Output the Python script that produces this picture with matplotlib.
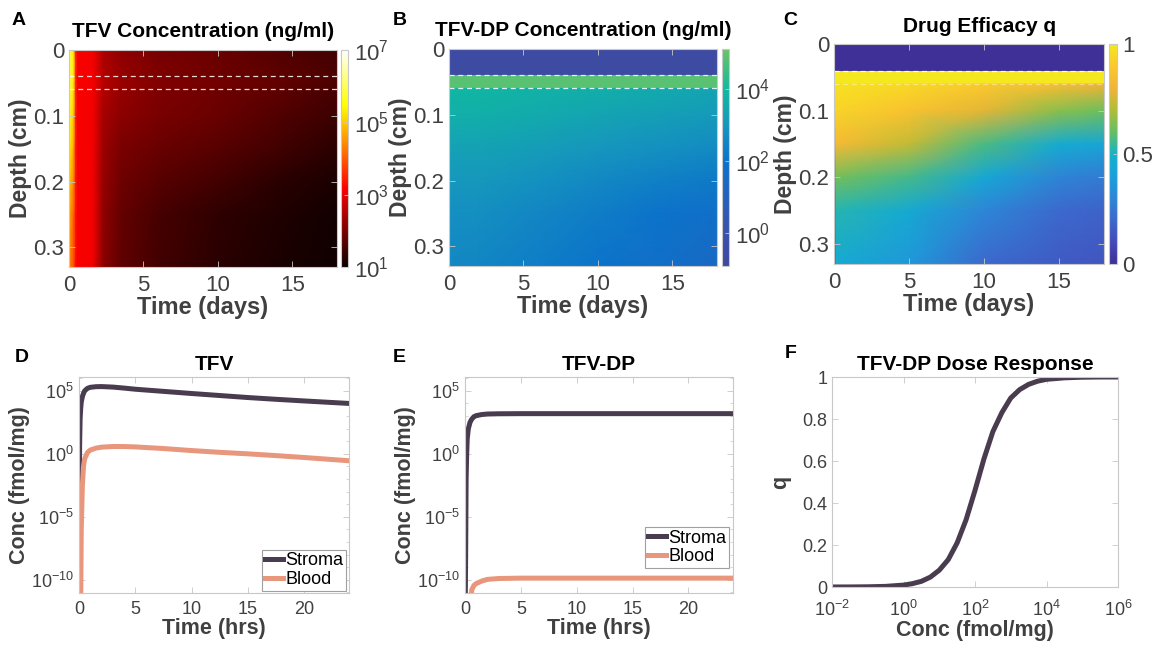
import numpy as np
import matplotlib
matplotlib.use("Agg")
import matplotlib.pyplot as plt
from matplotlib.colors import LinearSegmentedColormap
from matplotlib.ticker import FixedLocator, NullFormatter

plt.rcParams['font.family'] = ['Liberation Sans', 'DejaVu Sans']
plt.rcParams['mathtext.fontset'] = 'custom'
plt.rcParams['mathtext.rm'] = 'Liberation Sans'
plt.rcParams['mathtext.it'] = 'Liberation Sans:italic'
plt.rcParams['mathtext.bf'] = 'Liberation Sans:bold'

# ---------------- heatmap data (depth rows per time column) ----------------
# TFV, log10 ng/ml
tfv_days = [0, 0.3, 0.45, 0.6, 1.6, 2.3, 3.5, 6, 10, 14, 18]
tfv_depth = [0, 0.04, 0.05, 0.06, 0.1, 0.15, 0.2, 0.25, 0.33]
tfv_log = [
    [6.0, 6.0, 6.0, 5.9, 5.7, 5.4, 5.0, 4.7, 4.4],
    [5.3, 5.3, 5.3, 5.2, 5.0, 4.7, 4.4, 4.1, 3.9],
    [3.5, 3.5, 3.5, 3.5, 3.45, 3.4, 3.4, 3.35, 3.3],
    [3.15, 3.15, 3.15, 3.15, 3.15, 3.15, 3.15, 3.15, 3.15],
    [3.1, 3.1, 3.1, 3.1, 3.1, 3.1, 3.1, 3.1, 3.1],
    [2.45, 2.5, 2.55, 2.5, 2.4, 2.3, 2.25, 2.2, 2.15],
    [2.2, 2.25, 2.3, 2.25, 2.15, 2.0, 1.9, 1.8, 1.75],
    [2.0, 2.05, 2.1, 2.05, 2.0, 1.85, 1.7, 1.55, 1.5],
    [1.85, 1.9, 1.95, 1.9, 1.85, 1.7, 1.5, 1.35, 1.3],
    [1.65, 1.75, 1.8, 1.75, 1.65, 1.5, 1.3, 1.2, 1.15],
    [1.5, 1.6, 1.6, 1.55, 1.45, 1.3, 1.15, 1.08, 1.05],
]

# epithelium / blood-vessel layers, constant in time
layer_edges = [0, 0.04, 0.06]

# TFV-DP, log10 ng/ml
tfvdp_layer_log = [-0.65, 4.85]
tfvdp_days = [0, 0.1, 2, 6, 10, 14, 18]
tfvdp_depth = [0.06, 0.1, 0.15, 0.2, 0.25, 0.33]
tfvdp_log = [
    [-0.5, -0.5, -0.5, -0.5, -0.5, -0.5],
    [3.9, 3.7, 3.3, 3.0, 2.8, 2.6],
    [3.9, 3.7, 3.35, 3.05, 2.8, 2.55],
    [3.8, 3.55, 3.2, 2.85, 2.55, 2.3],
    [3.7, 3.4, 3.0, 2.6, 2.3, 2.05],
    [3.55, 3.25, 2.85, 2.4, 2.05, 1.8],
    [3.4, 3.1, 2.7, 2.2, 1.8, 1.5],
]

# drug efficacy q
q_layer = [0.0, 1.0]
q_days = [0, 0.15, 5, 10, 15, 18]
q_depth = [0.06, 0.1, 0.15, 0.2, 0.25, 0.33]
q_vals = [
    [0.97, 0.92, 0.6, 0.15, 0.05, 0.02],
    [0.98, 0.93, 0.83, 0.62, 0.52, 0.45],
    [0.95, 0.87, 0.73, 0.56, 0.45, 0.37],
    [0.9, 0.78, 0.57, 0.44, 0.3, 0.2],
    [0.84, 0.65, 0.46, 0.29, 0.2, 0.15],
    [0.8, 0.61, 0.43, 0.26, 0.18, 0.14],
]

# ---------------- time courses (log10 fmol/mg) ----------------
hrs_tfv = [0, 0.03, 0.06, 0.1, 0.15, 0.2, 0.3, 0.4, 0.5, 0.75, 1, 1.5, 2, 3, 4,
           5, 7.5, 10, 12.5, 15, 17.5, 20, 22, 24]
tfv_stroma = [-14, -2, 1, 2.8, 3.6, 4.1, 4.55, 4.8, 5.0, 5.2, 5.28, 5.33, 5.34, 5.3,
              5.22, 5.13, 4.96, 4.79, 4.63, 4.47, 4.33, 4.2, 4.1, 4.0]
tfv_blood = [-14, -14, -14, -14, -12, -6, -2.5, -1.0, -0.4, 0.1, 0.3, 0.45, 0.53, 0.58,
             0.58, 0.55, 0.42, 0.26, 0.12, 0.0, -0.14, -0.29, -0.42, -0.55]

hrs_dp = [0, 0.05, 0.1, 0.15, 0.2, 0.3, 0.45, 0.6, 0.8, 1, 1.5, 2, 3, 5, 10, 15, 20, 24]
dp_stroma = [-14, -9, -2, 0, 1.2, 2.0, 2.5, 2.75, 2.95, 3.03, 3.12, 3.16, 3.18, 3.19,
             3.19, 3.19, 3.19, 3.19]
dp_blood = [-14, -14, -14, -14, -14, -14, -14, -10.8, -10.45, -10.3, -10.1, -9.97, -9.9,
            -9.87, -9.87, -9.87, -9.87, -9.87]

# ---------------- dose response ----------------
dose_log = [-2, -1.5, -1, -0.5, 0, 0.25, 0.5, 0.75, 1, 1.25, 1.5, 1.75, 2, 2.25, 2.5,
            2.75, 3, 3.25, 3.5, 3.75, 4, 4.5, 5, 5.5, 6]
dose_q = [0.0001, 0.0003, 0.001, 0.003, 0.009, 0.016, 0.027, 0.047, 0.08, 0.13, 0.21,
          0.32, 0.46, 0.61, 0.74, 0.83, 0.9, 0.94, 0.965, 0.98, 0.989, 0.996, 0.999,
          1.0, 1.0]

# ---------------- style ----------------
W, H = 1154, 648
fig = plt.figure(figsize=(W / 100, H / 100), dpi=100)

TXT = '#404040'
EDGE = '#c8c8c8'
STROMA = '#4a3c4f'
BLOOD = '#e8967c'


def rgb_map(name, stops, lo=0.0, hi=1.0):
    return LinearSegmentedColormap.from_list(name, [
        ((v - lo) / (hi - lo), tuple(c / 255 for c in rgb)) for v, rgb in stops])


q_cmap = rgb_map('qmap', [
    (0.0, (62, 48, 150)), (0.1, (68, 75, 185)), (0.2, (60, 105, 205)),
    (0.3, (45, 135, 215)), (0.4, (25, 160, 220)), (0.5, (20, 178, 200)),
    (0.6, (100, 190, 100)), (0.7, (175, 190, 55)), (0.8, (240, 180, 55)),
    (0.9, (252, 200, 45)), (1.0, (245, 232, 30))])

dp_lo, dp_hi = -0.93, 5.13
dp_cmap = rgb_map('dpmap', [
    (-0.93, (62, 72, 160)), (0, (58, 82, 170)), (1, (38, 97, 188)),
    (2, (12, 114, 203)), (3, (22, 150, 190)), (4, (16, 185, 160)),
    (5.13, (110, 195, 100))], dp_lo, dp_hi)


def axes_px(x0, y0, x1, y1):
    return fig.add_axes([x0 / W, 1 - y1 / H, (x1 - x0) / W, (y1 - y0) / H])


def style_axes(ax, size):
    for s in ax.spines.values():
        s.set_color(EDGE)
        s.set_linewidth(0.8)
    ax.tick_params(direction='in', top=True, right=True, color=EDGE, labelcolor=TXT,
                   labelsize=size, length=4, width=0.6)
    ax.tick_params(axis='x', pad=6)
    ax.tick_params(which='minor', direction='in', top=True, right=True, color=EDGE,
                   length=2, width=0.5)


def style_cbar(cb):
    cb.outline.set_edgecolor(EDGE)
    cb.ax.tick_params(direction='in', color=EDGE, labelcolor=TXT, labelsize=16,
                      length=3, width=0.6, pad=4)


def heat_frame(ax, title, tx=0.5):
    ax.set_xlim(0, 18)
    ax.set_ylim(0.33, 0)
    ax.set_xticks([0, 5, 10, 15])
    ax.set_yticks([0, 0.1, 0.2, 0.3], labels=['0', '0.1', '0.2', '0.3'])
    ax.set_xlabel('Time (days)', fontsize=17, fontweight='bold', color=TXT, labelpad=0)
    ax.set_ylabel('Depth (cm)', fontsize=16.5, fontweight='bold', color=TXT, labelpad=1)
    ax.set_title(title, fontsize=15, fontweight='bold', x=tx, pad=9)
    style_axes(ax, 16)


def dashed(ax, depth, alpha=0.85):
    ax.axhline(depth, color='white', lw=0.9, ls=(0, (4, 3)), alpha=alpha)


# ---- A: TFV ----
axA = axes_px(69, 50, 337, 267)
mA = axA.pcolormesh(tfv_days, tfv_depth, np.array(tfv_log).T, shading='gouraud',
                    cmap='hot', vmin=1, vmax=7)
for d in layer_edges[1:]:
    dashed(axA, d)
heat_frame(axA, 'TFV Concentration (ng/ml)')
cbA = fig.colorbar(mA, cax=axes_px(341, 50, 348, 267), ticks=[1, 3, 5, 7])
cbA.ax.set_yticklabels([r'$10^{1}$', r'$10^{3}$', r'$10^{5}$', r'$10^{7}$'])
style_cbar(cbA)

# ---- B: TFV-DP ----
axB = axes_px(449, 49, 717, 266)
axB.pcolormesh([0, 18], layer_edges, np.array(tfvdp_layer_log)[:, None],
               shading='flat', cmap=dp_cmap, vmin=dp_lo, vmax=dp_hi)
mB = axB.pcolormesh(tfvdp_days, tfvdp_depth, np.array(tfvdp_log).T, shading='gouraud',
                    cmap=dp_cmap, vmin=dp_lo, vmax=dp_hi)
for d in layer_edges[1:]:
    dashed(axB, d)
heat_frame(axB, 'TFV-DP Concentration (ng/ml)')
cbB = fig.colorbar(mB, cax=axes_px(722, 49, 729, 266), ticks=[0, 2, 4])
cbB.ax.set_yticklabels([r'$10^{0}$', r'$10^{2}$', r'$10^{4}$'])
style_cbar(cbB)

# ---- C: efficacy ----
axC = axes_px(834, 44, 1104, 264)
axC.pcolormesh([0, 18], layer_edges, np.array(q_layer)[:, None],
               shading='flat', cmap=q_cmap, vmin=0, vmax=1)
mC = axC.pcolormesh(q_days, q_depth, np.array(q_vals).T, shading='gouraud',
                    cmap=q_cmap, vmin=0, vmax=1)
dashed(axC, layer_edges[1])
dashed(axC, layer_edges[2], alpha=0.4)
heat_frame(axC, 'Drug Efficacy q', tx=0.54)
cbC = fig.colorbar(mC, cax=axes_px(1109, 44, 1117, 264), ticks=[0, 0.5, 1])
cbC.ax.set_yticklabels(['0', '0.5', '1'])
style_cbar(cbC)


# ---- D / E: time courses ----
def conc_frame(ax, title, leg_anchor):
    ax.set_yscale('log')
    ax.set_xlim(0, 24)
    ax.set_ylim(10 ** -11.05, 10 ** 6.1)
    ax.set_xticks([0, 5, 10, 15, 20])
    ax.yaxis.set_major_locator(FixedLocator([1e-10, 1e-5, 1, 1e5]))
    ax.yaxis.set_minor_locator(FixedLocator([10.0 ** k for k in range(-11, 7)]))
    ax.yaxis.set_minor_formatter(NullFormatter())
    ax.set_yticklabels([r'$10^{-10}$', r'$10^{-5}$', r'$10^{0}$', r'$10^{5}$'])
    ax.set_xlabel('Time (hrs)', fontsize=15.5, fontweight='bold', color=TXT, labelpad=0)
    ax.set_ylabel('Conc (fmol/mg)', fontsize=15.5, fontweight='bold', color=TXT, labelpad=1)
    ax.set_title(title, fontsize=15, fontweight='bold', pad=5)
    style_axes(ax, 13)
    leg = ax.legend(loc='lower right', bbox_to_anchor=leg_anchor, fontsize=13,
                    handlelength=1.0, handletextpad=0.15, borderpad=0.15,
                    labelspacing=0.1, borderaxespad=0.0, fancybox=False, framealpha=1)
    leg.get_frame().set_edgecolor('#a0a0a0')
    leg.get_frame().set_linewidth(0.8)


axD = axes_px(79, 377, 349, 593)
axD.plot(hrs_tfv, 10.0 ** np.array(tfv_stroma), color=STROMA, lw=3.6, label='Stroma')
axD.plot(hrs_tfv, 10.0 ** np.array(tfv_blood), color=BLOOD, lw=3.6, label='Blood')
conc_frame(axD, 'TFV', (0.99, 0.01))

axE = axes_px(465, 377, 733, 593)
axE.plot(hrs_dp, 10.0 ** np.array(dp_stroma), color=STROMA, lw=3.6, label='Stroma')
axE.plot(hrs_dp, 10.0 ** np.array(dp_blood), color=BLOOD, lw=3.6, label='Blood')
conc_frame(axE, 'TFV-DP', (0.985, 0.115))

# ---- F: dose response ----
axF = axes_px(832, 377, 1118, 587)
axF.plot(10.0 ** np.array(dose_log), dose_q, color=STROMA, lw=3.6)
axF.set_xscale('log')
axF.set_xlim(1e-2, 1e6)
axF.set_ylim(0, 1)
axF.set_xticks([1e-2, 1, 1e2, 1e4, 1e6],
               labels=[r'$10^{-2}$', r'$10^{0}$', r'$10^{2}$', r'$10^{4}$', r'$10^{6}$'])
axF.set_yticks([0, 0.2, 0.4, 0.6, 0.8, 1], labels=['0', '0.2', '0.4', '0.6', '0.8', '1'])
axF.set_xlabel('Conc (fmol/mg)', fontsize=15.5, fontweight='bold', color=TXT, labelpad=0)
axF.set_ylabel('q', fontsize=15.5, fontweight='bold', color=TXT, labelpad=8)
axF.set_title('TFV-DP Dose Response', fontsize=15, fontweight='bold', pad=5)
style_axes(axF, 13)
axF.tick_params(axis='x', pad=9)

# panel letters
for letter, x, y in [('A', 12, 25), ('B', 393, 25), ('C', 783, 25),
                     ('D', 15, 362), ('E', 393, 362), ('F', 785, 358)]:
    fig.text(x / W, 1 - y / H, letter, fontsize=14, fontweight='bold', va='baseline')

fig.savefig('out.png', dpi=100, facecolor='white')
